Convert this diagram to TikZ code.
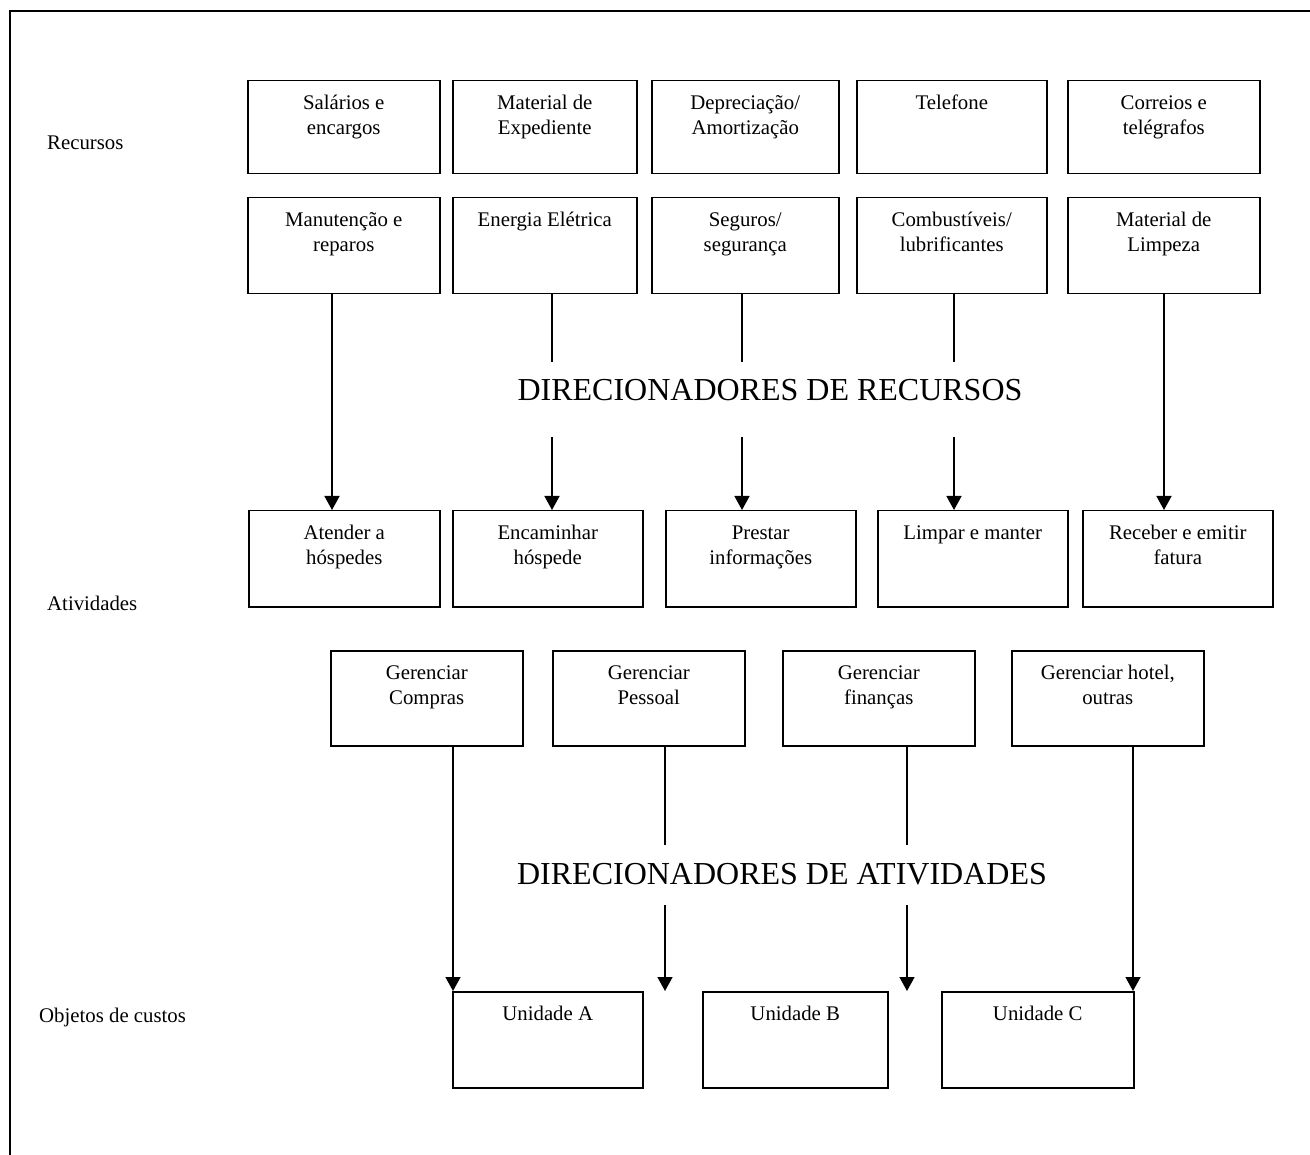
\documentclass[tikz,border=0pt]{standalone}
\usepackage{fontspec}
\setmainfont{Liberation Serif}
\usetikzlibrary{arrows.meta}
\newcommand\mybx[6]{%
  \node[box, anchor=north west, minimum width={#4pt-#2pt}, minimum height={#5pt-#3pt}] (#1) at (#2,#3) {};
  \node[btxt] (#1t) at ([yshift=-9pt]#1.north) {\rule{0pt}{20pt}#6};}
\begin{document}
\begin{tikzpicture}[x=1pt,y=-1pt,
  box/.style={draw, line width=1.5pt, inner sep=0pt},
  btxt/.style={anchor=north, align=center, inner sep=0pt, font=\fontsize{20.8}{25}\selectfont},
  lbl/.style={anchor=base west, inner sep=0pt, font=\fontsize{20.8}{25}\selectfont},
  big/.style={anchor=base, inner sep=0pt, font=\fontsize{32}{38}\selectfont},
  con/.style={line width=1.5pt},
  arr/.style={line width=1.5pt, -{Triangle[width=15pt,length=14pt]}}]
\useasboundingbox (0,0) rectangle (1310,1155);
\draw[line width=2pt] (10,1160) -- (10,11) -- (1315,11);

% labels
\node[lbl] (lrec) at (47,150) {Recursos};
\node[lbl] (lativ) at (47,610) {Atividades};
\node[lbl] (lobj) at (39,1022) {Objetos de custos};

% row 1
\mybx{s1}{247}{80}{439}{173}{Salários e\\encargos}
\mybx{s2}{452}{80}{636}{173}{Material de\\Expediente}
\mybx{s3}{651}{80}{838}{173}{Depreciação/\\Amortização}
\mybx{s4}{856}{80}{1046}{173}{Telefone}
\mybx{s5}{1067}{80}{1259}{173}{Correios e\\telégrafos}
% row 2
\mybx{m1}{247}{197}{439}{293}{Manutenção e\\reparos}
\mybx{m2}{452}{197}{636}{293}{Energia Elétrica}
\mybx{m3}{651}{197}{838}{293}{Seguros/\\segurança}
\mybx{m4}{856}{197}{1046}{293}{Combustíveis/\\lubrificantes}
\mybx{m5}{1067}{197}{1259}{293}{Material de\\Limpeza}
% row 3
\mybx{a1}{248}{510}{439}{606}{Atender a\\hóspedes}
\mybx{a2}{452}{510}{642}{606}{Encaminhar\\hóspede}
\mybx{a3}{665}{510}{855}{606}{Prestar\\informações}
\mybx{a4}{877}{510}{1067}{606}{Limpar e manter}
\mybx{a5}{1082}{510}{1272}{606}{Receber e emitir\\fatura}
% row 4
\mybx{g1}{330}{650}{522}{745}{Gerenciar\\Compras}
\mybx{g2}{552}{650}{744}{745}{Gerenciar\\Pessoal}
\mybx{g3}{782}{650}{974}{745}{Gerenciar\\finanças}
\mybx{g4}{1011}{650}{1203}{745}{Gerenciar hotel,\\outras}
% row 5
\mybx{u1}{452}{991}{642}{1087}{Unidade A}
\mybx{u2}{702}{991}{887}{1087}{Unidade B}
\mybx{u3}{941}{991}{1133}{1087}{Unidade C}

% big labels
\node[big] (dr) at (770,401) {DIRECIONADORES DE RECURSOS};
\node[big] (da) at (782,884) {DIRECIONADORES DE ATIVIDADES};

% coordinates
\coordinate (x1) at (332,0);
\coordinate (x2) at (552,0);
\coordinate (x3) at (742,0);
\coordinate (x4) at (954,0);
\coordinate (x5) at (1164,0);
\coordinate (gr1) at (0,362);
\coordinate (gr2) at (0,437);
\coordinate (y1) at (453,0);
\coordinate (y2) at (665,0);
\coordinate (y3) at (907,0);
\coordinate (y4) at (1133,0);
\coordinate (ga1) at (0,845);
\coordinate (ga2) at (0,905);

% resource drivers
\draw[arr] (m1.south -| x1) -- (a1.north -| x1);
\draw[con] (m2.south -| x2) -- (x2 |- gr1);
\draw[arr] (x2 |- gr2) -- (a2.north -| x2);
\draw[con] (m3.south -| x3) -- (x3 |- gr1);
\draw[arr] (x3 |- gr2) -- (a3.north -| x3);
\draw[con] (m4.south -| x4) -- (x4 |- gr1);
\draw[arr] (x4 |- gr2) -- (a4.north -| x4);
\draw[arr] (m5.south -| x5) -- (a5.north -| x5);

% activity drivers
\draw[arr] (g1.south -| y1) -- (u1.north -| y1);
\draw[con] (g2.south -| y2) -- (y2 |- ga1);
\draw[arr] (y2 |- ga2) -- (y2 |- u1.north);
\draw[con] (g3.south -| y3) -- (y3 |- ga1);
\draw[arr] (y3 |- ga2) -- (y3 |- u1.north);
\draw[arr] (g4.south -| y4) -- (u3.north -| y4);
\end{tikzpicture}
\end{document}
